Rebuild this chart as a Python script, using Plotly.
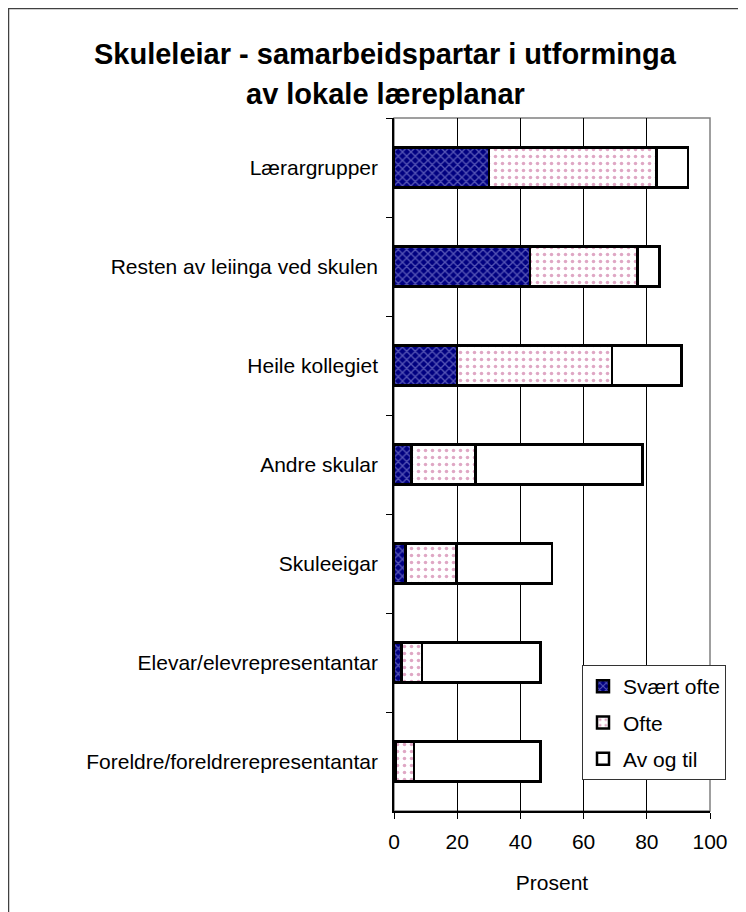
import plotly.graph_objects as go

categories = [
    "Lærargrupper",
    "Resten av leiinga ved skulen",
    "Heile kollegiet",
    "Andre skular",
    "Skuleeigar",
    "Elevar/elevrepresentantar",
    "Foreldre/foreldrerepresentantar",
]
svaert_ofte = [30, 43, 20, 5.6, 3.7, 2.4, 0.6]
ofte = [53, 34, 49, 20.2, 16, 6.4, 5.7]
av_og_til = [10, 7, 22, 52.8, 30.3, 37.5, 40]
x_ticks = [0, 20, 40, 60, 80, 100]

FONT = "Liberation Sans, Arial, sans-serif"
W, H = 746, 912
# page body adds an 8px offset, so positions below are page coords minus 8
OFF = 8
ML, MR, MT, MB = 394 - OFF, 36 + OFF, 118 - OFF, 101 + OFF
PW, PH = W - ML - MR, H - MT - MB


def px_x(p):
    return (p - OFF - ML) / PW


def px_y(p):
    return 1 - (p - OFF - MT) / PH


outline = dict(color="black", width=2.5)

fig = go.Figure()
fig.add_trace(go.Bar(
    y=categories, x=svaert_ofte, orientation="h", name="Svært ofte",
    legendgroup="a",
    marker=dict(color="#000080", line=outline,
                pattern=dict(shape="x", fgcolor="#a8a8e8", bgcolor="#000080",
                             size=6, solidity=0.4)),
))
fig.add_trace(go.Bar(
    y=categories, x=ofte, orientation="h", name="Ofte",
    legendgroup="b",
    marker=dict(color="white", line=outline,
                pattern=dict(shape=".", fgcolor="#c0508a", bgcolor="white",
                             size=7, solidity=0.2)),
))
fig.add_trace(go.Bar(
    y=categories, x=av_og_til, orientation="h", name="Av og til",
    legendgroup="c",
    marker=dict(color="white", line=outline),
))

# plot frame (grey top/right) and outer chart border
fig.add_shape(type="rect", xref="paper", yref="paper", x0=0, x1=1, y0=0, y1=1,
              line=dict(color="#808080", width=1.5), layer="below")
fig.add_shape(type="rect", xref="paper", yref="paper",
              x0=px_x(8.5), x1=px_x(W + 30), y0=px_y(H + 30), y1=px_y(8.5),
              line=dict(color="#404040", width=1.5), fillcolor="rgba(0,0,0,0)")

title_font = dict(family=FONT, size=29, color="black", weight="bold")
fig.add_annotation(text="Skuleleiar - samarbeidspartar i utforminga",
                   xref="paper", yref="paper", x=px_x(385), y=px_y(54),
                   xanchor="center", yanchor="middle", showarrow=False, font=title_font)
fig.add_annotation(text="av lokale læreplanar",
                   xref="paper", yref="paper", x=px_x(385), y=px_y(94),
                   xanchor="center", yanchor="middle", showarrow=False, font=title_font)

fig.update_layout(
    width=W, height=H,
    margin=dict(l=ML, r=MR, t=MT, b=MB),
    barmode="stack", bargap=0.6,
    paper_bgcolor="white", plot_bgcolor="white",
    font=dict(family=FONT, size=21, color="black"),
    legend=dict(x=px_x(582), y=px_y(665), xanchor="left", yanchor="top",
                bgcolor="white", bordercolor="#333333", borderwidth=1,
                traceorder="grouped", tracegroupgap=6,
                font=dict(family=FONT, size=21, color="black")),
)
fig.update_xaxes(range=[0, 100], tickvals=x_ticks, showgrid=True, gridcolor="black",
                 gridwidth=1, showline=True, linecolor="black", linewidth=1.5,
                 ticks="outside", ticklen=6, tickcolor="black", zeroline=False,
                 ticklabelstandoff=5,
                 title=dict(text="Prosent", standoff=23,
                            font=dict(family=FONT, size=21, color="black")))
fig.update_yaxes(autorange="reversed", showline=True, linecolor="black", linewidth=1.5,
                 ticks="outside", tickson="boundaries", ticklen=6, tickcolor="black",
                 showgrid=False, ticklabelstandoff=10)

fig.write_html("out.html")
